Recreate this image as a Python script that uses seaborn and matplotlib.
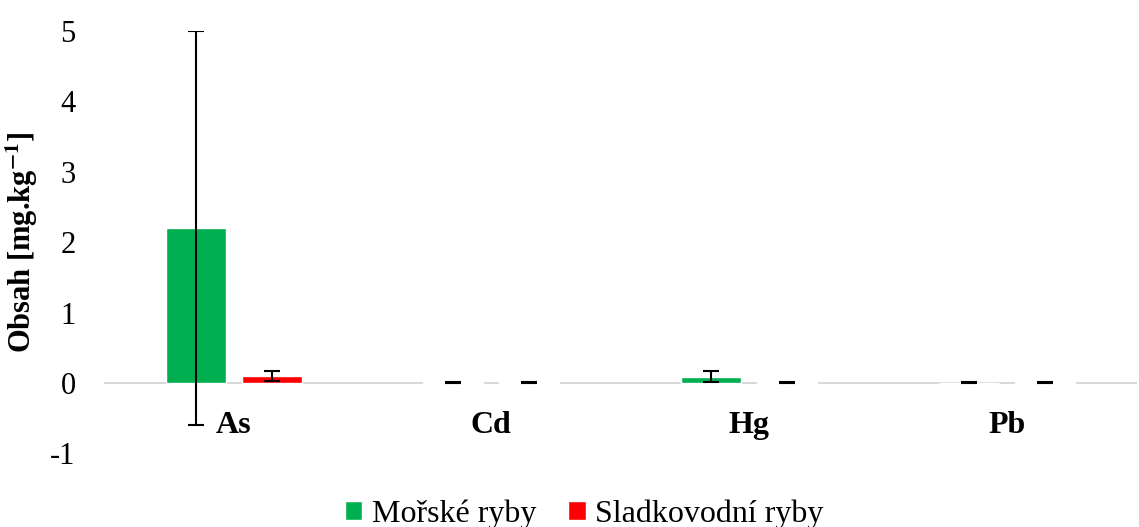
import matplotlib
matplotlib.use("Agg")
import matplotlib.pyplot as plt
import seaborn as sns
import pandas as pd
import numpy as np

# data
elements = ["As", "Cd", "Hg", "Pb"]
groups = ["Mořské ryby", "Sladkovodní ryby"]
marine_mean = [2.20, 0.010, 0.09, 0.004]
marine_err = [2.80, 0.008, 0.08, 0.004]
fresh_mean = [0.10, 0.006, 0.006, 0.006]
fresh_err = [0.07, 0.004, 0.004, 0.004]
colors = ["#00B050", "#FF0000"]

df = pd.DataFrame({
    "prvek": elements * 2,
    "skupina": [groups[0]] * 4 + [groups[1]] * 4,
    "obsah": marine_mean + fresh_mean,
    "err": marine_err + fresh_err,
})

sns.set_style("white")
plt.rcParams["font.family"] = ["Liberation Serif", "DejaVu Serif"]
plt.rcParams["mathtext.fontset"] = "stix"
plt.rcParams["axes.unicode_minus"] = False
for k in ["text.color", "axes.labelcolor", "xtick.color", "ytick.color"]:
    plt.rcParams[k] = "black"

fig = plt.figure(figsize=(11.39, 5.27), dpi=100)
ax = fig.add_axes([0.092, 0.14, 0.905, 0.801])

sns.barplot(data=df, x="prvek", y="obsah", hue="skupina", palette=colors,
            order=elements, hue_order=groups, width=0.59, gap=0.21,
            saturation=1, errorbar=None, ax=ax, legend=True)

# error bars at bar centers
for cont, g in zip(ax.containers, groups):
    sub = df[df["skupina"] == g].set_index("prvek").loc[elements]
    xs = [p.get_x() + p.get_width() / 2 for p in cont.patches]
    ax.errorbar(xs, sub["obsah"].values, yerr=sub["err"].values, fmt="none",
                ecolor="black", elinewidth=1.5, capsize=6, capthick=1.5, zorder=5)

ax.set_ylim(-1, 5)
ax.set_yticks(np.arange(-1, 6, 1))
ax.set_xlim(-0.5, 3.5)
for s in ["top", "right", "left"]:
    ax.spines[s].set_visible(False)
ax.spines["bottom"].set_position(("data", 0))
ax.spines["bottom"].set_color("#d9d9d9")
ax.spines["bottom"].set_linewidth(1.5)
ax.spines["bottom"].set_zorder(0)
ax.tick_params(axis="both", length=0)
ax.tick_params(axis="x", pad=20, labelsize=23)
ax.tick_params(axis="y", pad=21, labelsize=22)
for t in ax.get_xticklabels():
    t.set_fontweight("bold")
ax.set_xlabel("")
ax.set_ylabel(r"Obsah [mg.kg$^{\mathbf{-1}}$]", fontsize=22, fontweight="bold")
ax.yaxis.set_label_coords(-0.063, 0.5)

handles, labels = ax.get_legend_handles_labels()
ax.get_legend().remove()
fig.legend(handles, labels, loc="center", bbox_to_anchor=(0.513, 0.025), ncol=2,
           frameon=False, fontsize=23, handlelength=0.55, handleheight=0.55,
           handletextpad=0.3, columnspacing=1.0)

fig.savefig("out.png", dpi=100)
